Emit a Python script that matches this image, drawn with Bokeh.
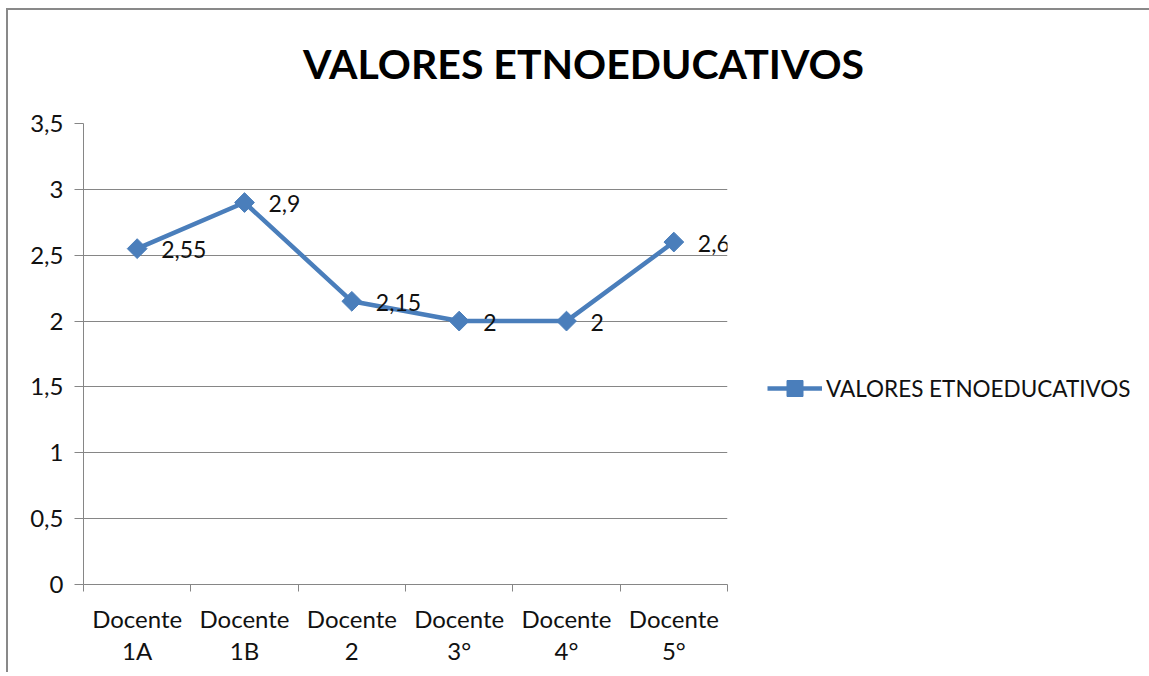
from bokeh.plotting import figure
from bokeh.models import (FixedTicker, Range1d, Legend, LegendItem, Label,
                          LabelSet, ColumnDataSource)
from bokeh.core.properties import value
from bokeh.embed import file_html
from bokeh.resources import INLINE
import math

# ---- data ----
categories = ["Docente\n1A", "Docente\n1B", "Docente\n2", "Docente\n3°", "Docente\n4°", "Docente\n5°"]
values = [2.55, 2.9, 2.15, 2.0, 2.0, 2.6]
series_name = "VALORES ETNOEDUCATIVOS"
chart_title = "VALORES ETNOEDUCATIVOS"
y_ticks = [0, 0.5, 1, 1.5, 2, 2.5, 3, 3.5]

def fmt(v):
    s = ("%g" % v)
    return s.replace(".", ",")

xs = [i + 0.5 for i in range(len(categories))]
src = ColumnDataSource(dict(x=xs, y=values, lab=[fmt(v) for v in values]))

FONT = "Lato"
BLUE = "#4A7EBB"
GRID = "#868686"
TXT = "#111111"

p = figure(frame_width=644, frame_height=461, output_backend="svg", toolbar_location=None,
           x_range=Range1d(0, len(categories)), y_range=Range1d(0, 3.5),
           min_border_left=75, min_border_right=418, min_border_top=113, min_border_bottom=88)
p.outline_line_color = None
p.background_fill_color = "white"
p.border_fill_color = "white"
p.styles = {"border-top": "2px solid #898989", "border-left": "2px solid #898989",
            "margin-top": "8px", "margin-left": "6px"}

# axes
xa = p.xaxis[0]
xa.ticker = FixedTicker(ticks=xs, minor_ticks=list(range(len(categories) + 1)))
xa.major_label_overrides = {x: c for x, c in zip(xs, categories)}
xa.major_tick_line_color = None
xa.minor_tick_in = 0
xa.minor_tick_out = 7
xa.minor_tick_line_color = GRID
xa.axis_line_color = GRID
xa.major_label_text_font = FONT
xa.major_label_text_font_size = "24px"
xa.major_label_text_color = TXT
xa.major_label_text_line_height = 1.12
xa.major_label_standoff = 12

ya = p.yaxis[0]
ya.ticker = FixedTicker(ticks=y_ticks)
ya.major_label_overrides = {t: fmt(t) for t in y_ticks}
ya.major_tick_in = 0
ya.major_tick_out = 9
ya.major_tick_line_color = GRID
ya.minor_tick_line_color = None
ya.axis_line_color = GRID
ya.major_label_text_font = FONT
ya.major_label_text_font_size = "24px"
ya.major_label_text_color = TXT
ya.major_label_standoff = 11

p.xgrid.grid_line_color = None
p.ygrid.grid_line_color = GRID
p.ygrid.grid_line_width = 1

# series
ln = p.line("x", "y", source=src, line_color=BLUE, line_width=4.5)
mk = p.scatter("x", "y", source=src, marker="square", angle=math.pi / 4, size=14,
               fill_color=BLUE, line_color=BLUE)

labels = LabelSet(x="x", y="y", text="lab", source=src, x_offset=24, y_offset=-1,
                  text_align="left", text_baseline="middle", text_font=value(FONT),
                  text_font_size=value("23px"), text_color=value(TXT))
p.add_layout(labels)

# title (label in the top panel, screen units relative to that panel)
title = Label(x=500, y=60, x_units="screen", y_units="screen", text=chart_title,
              text_align="center", text_baseline="middle",
              text_font=FONT, text_font_size="41px", text_font_style="bold",
              text_color="#000000")
p.add_layout(title, "above")

# legend
legend = Legend(items=[LegendItem(label=series_name, renderers=[ln, mk])],
                location=(40, 176), orientation="vertical",
                glyph_width=55, glyph_height=40, label_standoff=4,
                label_text_font=FONT, label_text_font_size="22.5px", label_text_color=TXT,
                padding=0, margin=0, border_line_color=None, background_fill_alpha=0,
                spacing=0)
p.add_layout(legend, "right")

open("out.html", "w").write(file_html(p, INLINE))
